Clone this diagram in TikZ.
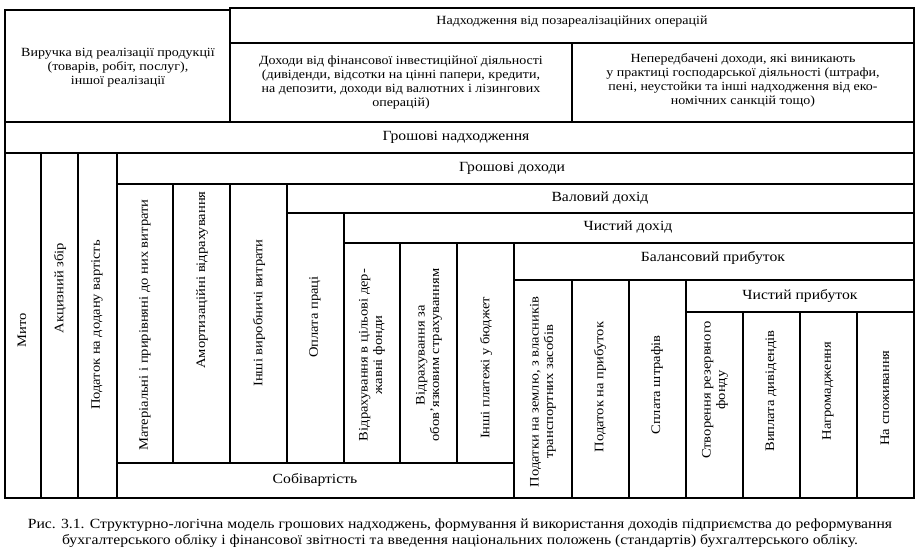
\documentclass[tikz,border=0pt]{standalone}
\usepackage{fontspec}
\setmainfont[FakeStretch=1.12]{Liberation Serif}
\usetikzlibrary{fit}
\begin{document}
\begin{tikzpicture}[x=1pt,y=-1pt,
  cell/.style={draw, line width=1.3pt, inner sep=0pt, rectangle},
  txt/.style={align=center, font=\fontsize{12.5}{14}\selectfont, inner sep=0pt},
  head/.style={align=center, font=\fontsize{14}{15}\selectfont, inner sep=0pt},
  vtxt/.style={rotate=90, align=center, font=\fontsize{13}{14.5}\selectfont, inner sep=0pt},
  captxt/.style={align=center, font=\fontsize{14}{16}\selectfont, inner sep=0pt}]
\useasboundingbox (0,0) rectangle (922,559);
\fill[white] (0,0) rectangle (922,559);
% boxes
\node[cell, fit={(5,10) (230,122)}] (A) {};
\node[cell, fit={(230,8) (914,43)}] (B) {};
\node[cell, fit={(230,43) (572,122)}] (C) {};
\node[cell, fit={(572,43) (914,122)}] (D) {};
\node[cell, fit={(5,122) (914,153)}] (E) {};
\node[cell, fit={(5,153) (41,498)}] (F1) {};
\node[cell, fit={(41,153) (78,498)}] (F2) {};
\node[cell, fit={(78,153) (117,498)}] (F3) {};
\node[cell, fit={(117,153) (914,184)}] (G) {};
\node[cell, fit={(117,184) (173,463)}] (H1) {};
\node[cell, fit={(173,184) (230,463)}] (H2) {};
\node[cell, fit={(230,184) (287,463)}] (H3) {};
\node[cell, fit={(287,184) (914,213)}] (I) {};
\node[cell, fit={(287,213) (344,463)}] (J) {};
\node[cell, fit={(344,213) (914,243)}] (K) {};
\node[cell, fit={(344,243) (400,463)}] (L1) {};
\node[cell, fit={(400,243) (457,463)}] (L2) {};
\node[cell, fit={(457,243) (514,463)}] (L3) {};
\node[cell, fit={(117,463) (514,498)}] (M) {};
\node[cell, fit={(514,243) (914,280)}] (N) {};
\node[cell, fit={(514,280) (572,498)}] (O1) {};
\node[cell, fit={(572,280) (629,498)}] (O2) {};
\node[cell, fit={(629,280) (686,498)}] (O3) {};
\node[cell, fit={(686,280) (914,312)}] (P) {};
\node[cell, fit={(686,312) (743,498)}] (Q1) {};
\node[cell, fit={(743,312) (800,498)}] (Q2) {};
\node[cell, fit={(800,312) (857,498)}] (Q3) {};
\node[cell, fit={(857,312) (914,498)}] (Q4) {};
% texts
\node[txt] (tA) at (118,68) {Виручка від реалізації продукції\\(товарів, робіт, послуг),\\іншої реалізації};
\node[txt] (tB) at (572,22) {Надходження від позареалізаційних операцій};
\node[txt] (tC) at (401,82) {Доходи від фінансової інвестиційної діяльності\\(дивіденди, відсотки на цінні папери, кредити,\\на депозити, доходи від валютних і лізингових\\операцій)};
\node[txt] (tD) at (743,80) {Непередбачені доходи, які виникають\\у практиці господарської діяльності (штрафи,\\пені, неустойки та інші надходження від еко-\\номічних санкцій тощо)};
\node[head] (tE) at (456,137) {Грошові надходження};
\node[head] (tG) at (512,168) {Грошові доходи};
\node[head] (tI) at (600,198) {Валовий дохід};
\node[head] (tK) at (628,227) {Чистий дохід};
\node[head] (tN) at (713,258) {Балансовий прибуток};
\node[head] (tP) at (800,296) {Чистий прибуток};
\node[head] (tM) at (315,480) {Собівартість};
\node[vtxt] (tF1) at (22,330) {Мито};
\node[vtxt] (tF2) at (60,288) {Акцизний збір};
\node[vtxt] (tF3) at (97,325) {Податок на додану вартість};
\node[vtxt] (tH1) at (145,325) {Матеріальні і прирівняні до них витрати};
\node[vtxt] (tH2) at (202,280) {Амортизаційні відрахування};
\node[vtxt] (tH3) at (259,313) {Інші виробничі витрати};
\node[vtxt] (tJ) at (315,317) {Оплата праці};
\node[vtxt] (tL1) at (372,355) {Відрахування в цільові дер-\\жавні фонди};
\node[vtxt] (tL2) at (429,355) {Відрахування за\\обов'язковим страхуванням};
\node[vtxt] (tL3) at (486,368) {Інші платежі у бюджет};
\node[vtxt] (tO1) at (543,392) {Податки на землю, з власників\\транспортних засобів};
\node[vtxt] (tO2) at (600,387) {Податок на прибуток};
\node[vtxt] (tO3) at (657,385) {Сплата штрафів};
\node[vtxt] (tQ1) at (715,390) {Створення резервного\\фонду};
\node[vtxt] (tQ2) at (771,391) {Виплата дивідендів};
\node[vtxt] (tQ3) at (828,391) {Нагромадження};
\node[vtxt] (tQ4) at (885,398) {На споживання};
% caption
\node[captxt] (capt) at (460,533) {Рис. 3.1. Структурно-логічна модель грошових надходжень, формування й використання доходів підприємства до реформування\\бухгалтерського обліку і фінансової звітності та введення національних положень (стандартів) бухгалтерського обліку.};
\end{tikzpicture}
\end{document}
